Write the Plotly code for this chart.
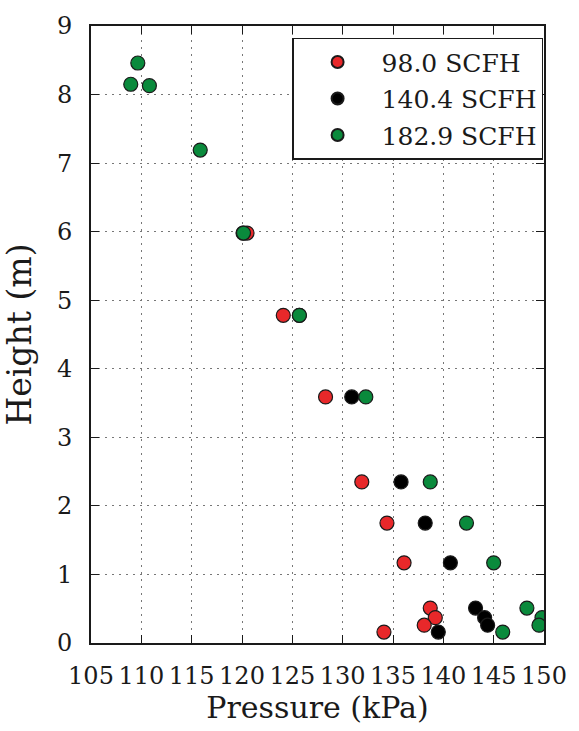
import plotly.graph_objects as go

# Data
h_red = [5.98, 4.78, 3.59, 2.35, 1.75, 1.17, 0.51, 0.37, 0.26, 0.16]
p_red = [120.5, 124.1, 128.3, 131.9, 134.4, 136.1, 138.7, 139.2, 138.1, 134.1]

h_black = [5.98, 4.78, 3.59, 2.35, 1.75, 1.17, 0.51, 0.37, 0.26, 0.16]
p_black = [120.1, 125.7, 130.9, 135.8, 138.2, 140.7, 143.2, 144.1, 144.4, 139.5]

h_green = [8.46, 8.15, 8.13, 7.19, 5.98, 4.78, 3.59, 2.35, 1.75, 1.17, 0.51, 0.37, 0.26, 0.16]
p_green = [109.65, 108.95, 110.8, 115.85, 120.15, 125.7, 132.3, 138.7, 142.3, 145.0, 148.3, 149.8, 149.5, 145.9]

names = ["98.0 SCFH", "140.4 SCFH", "182.9 SCFH"]
colors = ["#e8282a", "#000000", "#0a8a3c"]

x_ticks = list(range(105, 151, 5))
y_ticks = list(range(0, 10))

FONT = "DejaVu Serif"
INK = "#1a1a1a"

fig = go.Figure()
for name, xs, ys, c in zip(names, [p_red, p_black, p_green], [h_red, h_black, h_green], colors):
    fig.add_trace(go.Scatter(
        x=xs, y=ys, mode="markers", name=name, legendgroup=name,
        marker=dict(size=14, color=c, line=dict(color=INK, width=1.2)),
        cliponaxis=True,
    ))

axis_common = dict(
    showline=True, linecolor=INK, linewidth=2, mirror="allticks",
    ticks="inside", ticklen=8, tickwidth=1.3, tickcolor=INK,
    showgrid=True, gridcolor="#777777", gridwidth=1, griddash="2px,5px",
    zeroline=False, tickfont=dict(family=FONT, size=24, color=INK),
)

fig.update_xaxes(range=[105, 150], tickvals=x_ticks, ticktext=[str(v) for v in x_ticks],
                 ticklabelstandoff=10,
                 title=dict(text="Pressure (kPa)", font=dict(family=FONT, size=30, color=INK), standoff=6),
                 **axis_common)
fig.update_yaxes(range=[0, 9], tickvals=y_ticks, ticktext=[str(v) for v in y_ticks],
                 ticklabelstandoff=12,
                 title=dict(text="Height (m)", font=dict(family=FONT, size=33, color=INK), standoff=16),
                 **axis_common)

fig.update_layout(
    width=579, height=731,
    margin=dict(l=91, r=26, t=23, b=88),
    paper_bgcolor="white", plot_bgcolor="white",
    font=dict(family=FONT, color=INK),
    legend=dict(
        x=0.998, y=0.981, xanchor="right", yanchor="top",
        bgcolor="white", bordercolor=INK, borderwidth=1.5,
        font=dict(family=FONT, size=25, color=INK),
        traceorder="grouped", tracegroupgap=1, itemsizing="constant",
        itemwidth=78,
    ),
)

fig.write_html("out.html")
